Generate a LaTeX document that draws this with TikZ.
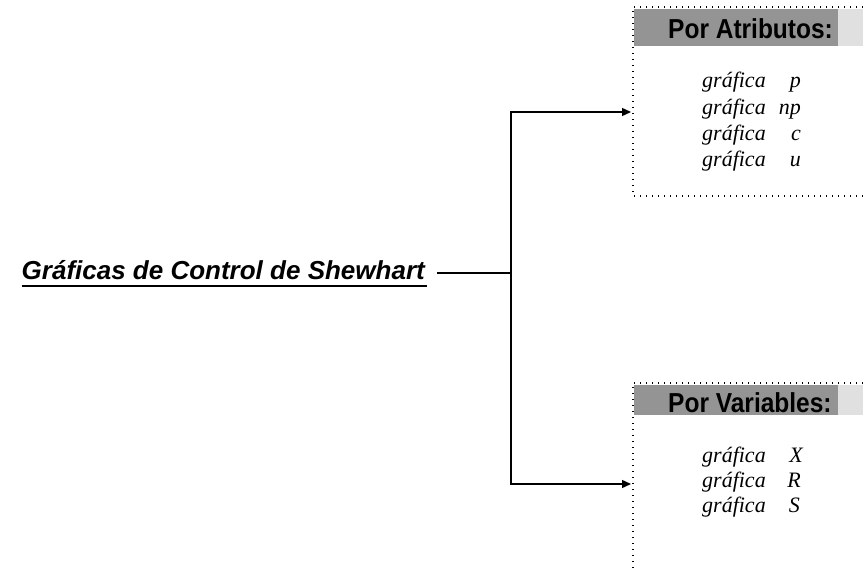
\documentclass[tikz,border=0pt]{standalone}
\usepackage{fontspec}
\usepackage{graphicx}
\setmainfont{Liberation Serif}
\setsansfont{Liberation Sans}
\usetikzlibrary{arrows.meta}
\begin{document}
\begin{tikzpicture}[x=1pt,y=-1pt,
  dotline/.style={line width=1.3pt, dash pattern=on 1.3pt off 4.7pt},
  conn/.style={line width=1.4pt},
  arr/.style={conn,-{Triangle[length=9pt,width=8pt]}},
  hdr/.style={font=\fontsize{24.5}{24.5}\sffamily\bfseries, inner sep=0, anchor=base west},
  titlefont/.style={font=\fontsize{26}{26}\sffamily\bfseries\itshape, inner sep=0, anchor=base east},
  itemtxt/.style={font=\fontsize{22}{22}\selectfont\itshape, inner sep=0, anchor=base west},
  vartxt/.style={font=\fontsize{22}{22}\selectfont\itshape, inner sep=0, anchor=base east},
  band/.style={fill=black!42},
  bandfade/.style={fill=black!12}]
\useasboundingbox (0,0) rectangle (863,572);

% title
\node[titlefont] (title) at (425,280) {Gráficas de Control de Shewhart};
\draw[line width=2pt] ([yshift=-6.5pt]title.base west) -- ([yshift=-6.5pt,xshift=2pt]title.base east);

% connectors
\coordinate (tl) at (437,273);
\coordinate (jn) at (511,273);
\coordinate (aA) at (631,112);
\coordinate (aB) at (631,484);
\draw[conn] (tl) -- (jn);
\draw[arr] (jn) |- (aA);
\draw[arr] (jn) |- (aB);

% box A: Por Atributos
\fill[band] (634,9) rectangle (838,46);
\fill[bandfade] (838,9) rectangle (863,46);
\draw[dotline] (863,7) -- (633,7) -- (633,196) -- (863,196);
\node[hdr] (ha) at (668,39) {\scalebox{1}[1.12]{Por Atributos:}};
\node[itemtxt] (a1) at (702,88) {gráfica};
\node[vartxt] (p1) at (801,88) {p};
\node[itemtxt] (a2) at (702,114.5) {gráfica};
\node[vartxt] (p2) at (801,114.5) {np};
\node[itemtxt] (a3) at (702,141) {gráfica};
\node[vartxt] (p3) at (801,141) {c};
\node[itemtxt] (a4) at (702,167) {gráfica};
\node[vartxt] (p4) at (801,167) {u};

% box B: Por Variables
\fill[band] (634,385) rectangle (838,415);
\fill[bandfade] (838,385) rectangle (863,415);
\draw[dotline] (863,383) -- (633,383) -- (633,572);
\node[hdr] (hb) at (668,412) {\scalebox{1}[1.12]{Por Variables:}};
\node[itemtxt] (b1) at (702,462) {gráfica};
\node[vartxt] (q1) at (803,462) {X};
\node[itemtxt] (b2) at (702,487) {gráfica};
\node[vartxt] (q2) at (801,487) {R};
\node[itemtxt] (b3) at (702,512) {gráfica};
\node[vartxt] (q3) at (800,512) {S};
\end{tikzpicture}
\end{document}
